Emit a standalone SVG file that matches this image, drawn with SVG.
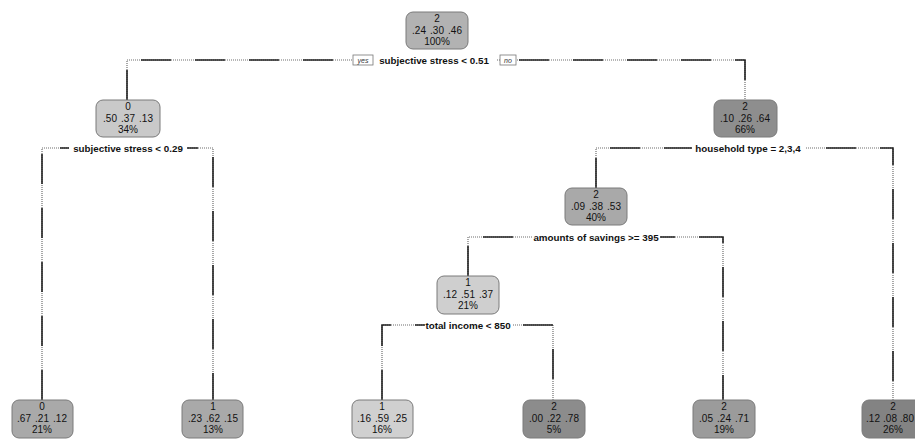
<svg xmlns="http://www.w3.org/2000/svg" width="915" height="440" viewBox="0 0 915 440">
<style>
.bg{fill:#fff}
.d{fill:none;stroke:#6e6e6e;stroke-width:1.2;stroke-dasharray:1 1}
.s{fill:none;stroke:#222;stroke-width:1.6;stroke-dasharray:30 24}
.box{stroke:#7a7a7a;stroke-width:1}
.t{font-family:"Liberation Sans",Arial,sans-serif;font-size:10px;fill:#111;text-anchor:middle}
.lab{font-family:"Liberation Sans",Arial,sans-serif;font-size:9.8px;font-weight:bold;fill:#111;text-anchor:middle}
.yn{font-family:"Liberation Sans",Arial,sans-serif;font-size:7px;font-style:italic;fill:#333;text-anchor:middle}
.ynb{fill:#fff;stroke:#777;stroke-width:0.8}
</style>
<rect class="bg" x="0" y="0" width="915" height="440"/>
<g id="connectors">
  <path class="d" d="M127,100 V60 H745 V100 M42,400 V148 H213 V400 M596,188 V148 H893 V400 M468,276 V237 H723 V400 M382,400 V325 H553 V400"/>
  <path class="s" d="M127,100 V60 H745 V100"/>
  <path class="s" d="M42,400 V148 H213 V400"/>
  <path class="s" d="M596,188 V148 H893 V400"/>
  <path class="s" d="M468,276 V237 H723 V400"/>
  <path class="s" d="M382,400 V325 H553 V400"/>
  <rect class="bg" x="373" y="54" width="123" height="12"/>
  <text class="lab" x="434" y="63.5">subjective stress &lt; 0.51</text>
  <rect class="ynb" x="353" y="55" width="20" height="10"/>
  <text class="yn" x="363" y="62.5">yes</text>
  <rect class="ynb" x="500" y="55" width="16" height="10"/>
  <text class="yn" x="508" y="62.5">no</text>
  <rect class="bg" x="69" y="142" width="118" height="12"/>
  <text class="lab" x="128" y="151.5">subjective stress &lt; 0.29</text>
  <rect class="bg" x="692" y="142" width="113" height="12"/>
  <text class="lab" x="748" y="151.5">household type = 2,3,4</text>
  <rect class="bg" x="533" y="231" width="127" height="12"/>
  <text class="lab" x="596" y="240.5">amounts of savings &gt;= 395</text>
  <rect class="bg" x="425" y="319" width="87" height="12"/>
  <text class="lab" x="468" y="328.5">total income &lt; 850</text>
</g>
<g id="n1">
  <rect class="box" x="406" y="12" width="62" height="37" rx="7" fill="#b2b2b2"/>
  <text class="t" x="437" y="22">2</text>
  <text class="t" y="33.5"><tspan x="419">.24</tspan><tspan x="437">.30</tspan><tspan x="455">.46</tspan></text>
  <text class="t" x="437" y="45">100%</text>
</g>
<g id="n2">
  <rect class="box" x="96" y="100" width="64" height="37" rx="7" fill="#c9c9c9"/>
  <text class="t" x="128" y="110">0</text>
  <text class="t" y="121.5"><tspan x="110">.50</tspan><tspan x="128">.37</tspan><tspan x="146">.13</tspan></text>
  <text class="t" x="128" y="133">34%</text>
</g>
<g id="n3">
  <rect class="box" x="714" y="100" width="63" height="37" rx="7" fill="#8e8e8e"/>
  <text class="t" x="745" y="110">2</text>
  <text class="t" y="121.5"><tspan x="727">.10</tspan><tspan x="745">.26</tspan><tspan x="763">.64</tspan></text>
  <text class="t" x="745" y="133">66%</text>
</g>
<g id="n4">
  <rect class="box" x="565" y="188" width="62" height="37" rx="7" fill="#a9a9a9"/>
  <text class="t" x="596" y="198">2</text>
  <text class="t" y="209.5"><tspan x="578">.09</tspan><tspan x="596">.38</tspan><tspan x="614">.53</tspan></text>
  <text class="t" x="596" y="221">40%</text>
</g>
<g id="n5">
  <rect class="box" x="437" y="276" width="62" height="38" rx="7" fill="#cfcfcf"/>
  <text class="t" x="468" y="286">1</text>
  <text class="t" y="297.5"><tspan x="450">.12</tspan><tspan x="468">.51</tspan><tspan x="486">.37</tspan></text>
  <text class="t" x="468" y="309">21%</text>
</g>
<g id="leaf1">
  <rect class="box" x="12" y="400" width="61" height="38" rx="7" fill="#a9a9a9"/>
  <text class="t" x="42" y="410">0</text>
  <text class="t" y="421.5"><tspan x="24">.67</tspan><tspan x="42">.21</tspan><tspan x="60">.12</tspan></text>
  <text class="t" x="42" y="433">21%</text>
</g>
<g id="leaf2">
  <rect class="box" x="182" y="400" width="61" height="38" rx="7" fill="#a9a9a9"/>
  <text class="t" x="213" y="410">1</text>
  <text class="t" y="421.5"><tspan x="195">.23</tspan><tspan x="213">.62</tspan><tspan x="231">.15</tspan></text>
  <text class="t" x="213" y="433">13%</text>
</g>
<g id="leaf3">
  <rect class="box" x="352" y="400" width="61" height="38" rx="7" fill="#d0d0d0"/>
  <text class="t" x="382" y="410">1</text>
  <text class="t" y="421.5"><tspan x="364">.16</tspan><tspan x="382">.59</tspan><tspan x="400">.25</tspan></text>
  <text class="t" x="382" y="433">16%</text>
</g>
<g id="leaf4">
  <rect class="box" x="523" y="400" width="62" height="38" rx="7" fill="#8c8c8c"/>
  <text class="t" x="554" y="410">2</text>
  <text class="t" y="421.5"><tspan x="536">.00</tspan><tspan x="554">.22</tspan><tspan x="572">.78</tspan></text>
  <text class="t" x="554" y="433">5%</text>
</g>
<g id="leaf5">
  <rect class="box" x="693" y="400" width="62" height="38" rx="7" fill="#9b9b9b"/>
  <text class="t" x="724" y="410">2</text>
  <text class="t" y="421.5"><tspan x="706">.05</tspan><tspan x="724">.24</tspan><tspan x="742">.71</tspan></text>
  <text class="t" x="724" y="433">19%</text>
</g>
<g id="leaf6">
  <rect class="box" x="862" y="400" width="62" height="38" rx="7" fill="#838383"/>
  <text class="t" x="893" y="410">2</text>
  <text class="t" y="421.5"><tspan x="873">.12</tspan><tspan x="890">.08</tspan><tspan x="914" text-anchor="end">.80</tspan></text>
  <text class="t" x="893" y="433">26%</text>
</g>
</svg>
